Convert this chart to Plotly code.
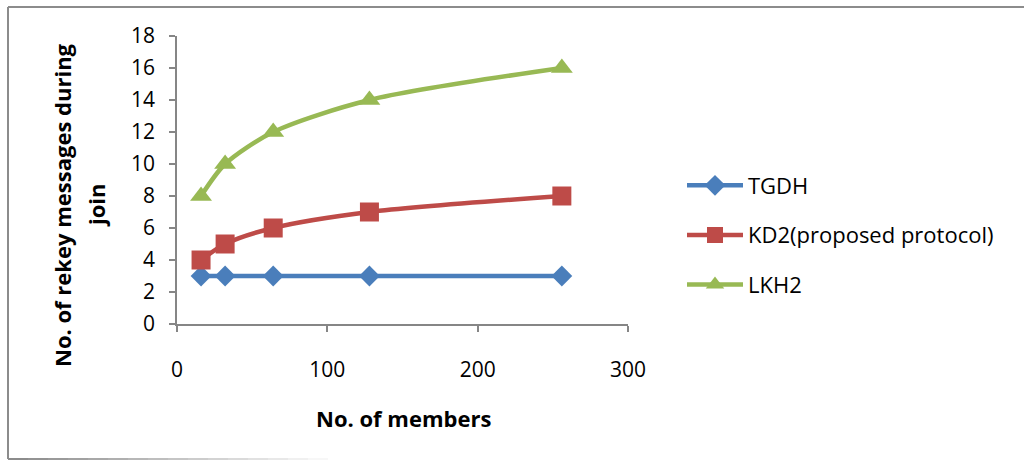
import plotly.graph_objects as go

# Group sizes and rekey message counts for a join
members = [16, 32, 64, 128, 256]
tgdh = [3, 3, 3, 3, 3]
kd2 = [4, 5, 6, 7, 8]
lkh2 = [8, 10, 12, 14, 16]

x_ticks = [0, 100, 200, 300]
y_ticks = [0, 2, 4, 6, 8, 10, 12, 14, 16, 18]

W, H = 1024, 461
L, R, T, B = 177, 628, 36, 324  # plot area in pixels

def px_x(p):
    return (p - L) / (R - L)

def px_y(p):
    return (B - p) / (B - T)

FONT = "Open Sans"
AXIS_GRAY = "#868686"

series = [
    ("TGDH", tgdh, "#4a7ebb", "diamond", 16),
    ("KD2(proposed protocol)", kd2, "#be4b48", "square", 19),
    ("LKH2", lkh2, "#98b954", "triangle-up", 19),
]

fig = go.Figure()
for i, (name, vals, color, symbol, size) in enumerate(series):
    fig.add_trace(go.Scatter(
        x=members, y=vals, name=name, mode="lines+markers", legendgroup=f"g{i}",
        line=dict(color=color, width=4.5, shape="spline", smoothing=0.8),
        marker=dict(symbol=symbol, size=size, color=color),
    ))

fig.update_xaxes(
    range=[0, 300], tickvals=x_ticks, showgrid=False, zeroline=False,
    showline=True, linecolor=AXIS_GRAY, linewidth=1.5,
    ticks="outside", ticklen=6, tickcolor=AXIS_GRAY, tickwidth=1.5,
    ticklabelstandoff=20,
    tickfont=dict(family=FONT, size=21, color="#000"),
)
fig.update_yaxes(
    range=[0, 18], tickvals=y_ticks, showgrid=False, zeroline=False,
    showline=True, linecolor=AXIS_GRAY, linewidth=1.5,
    ticks="outside", ticklen=6, tickcolor=AXIS_GRAY, tickwidth=1.5,
    ticklabelstandoff=10,
    tickfont=dict(family=FONT, size=21, color="#000"),
)

title_font = dict(family=FONT, size=22, color="#000")
annotations = [
    dict(text="<b>No. of rekey messages during</b>", x=px_x(62), y=px_y(205),
         xref="paper", yref="paper", textangle=-90, showarrow=False,
         font=title_font, xanchor="center", yanchor="middle"),
    dict(text="<b>join</b>", x=px_x(96), y=px_y(205),
         xref="paper", yref="paper", textangle=-90, showarrow=False,
         font=title_font, xanchor="center", yanchor="middle"),
    dict(text="<b>No. of members</b>", x=px_x(403), y=px_y(418),
         xref="paper", yref="paper", showarrow=False,
         font=title_font, xanchor="center", yanchor="middle"),
]

# Chart frame: left and top edges, bottom edge fading out to the right
shapes = [
    dict(type="line", xref="paper", yref="paper", x0=px_x(8), x1=px_x(8),
         y0=px_y(7), y1=px_y(459), line=dict(color="#8c8c8c", width=2)),
    dict(type="line", xref="paper", yref="paper", x0=px_x(8), x1=px_x(1024),
         y0=px_y(7), y1=px_y(7), line=dict(color="#8c8c8c", width=2)),
]
steps = 16
for i in range(steps):
    a = px_x(8 + i * 20)
    b = px_x(8 + (i + 1) * 20)
    shapes.append(dict(type="line", xref="paper", yref="paper", x0=a, x1=b,
                       y0=px_y(459), y1=px_y(459),
                       line=dict(color="#8c8c8c", width=2),
                       opacity=max(0.0, 1 - i / steps)))

fig.update_layout(
    width=W, height=H,
    margin=dict(l=L, r=W - R, t=T, b=H - B),
    plot_bgcolor="white", paper_bgcolor="white",
    showlegend=True,
    legend=dict(x=px_x(682), y=px_y(235), xanchor="left", yanchor="middle",
                font=dict(family=FONT, size=22, color="#000"),
                itemwidth=56, tracegroupgap=18, bgcolor="rgba(0,0,0,0)"),
    annotations=annotations, shapes=shapes,
)

fig.write_html("out.html")
